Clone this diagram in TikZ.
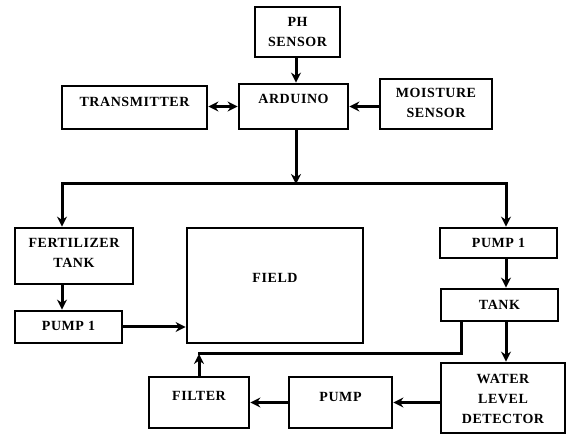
\documentclass[tikz,border=0pt]{standalone}
\usepackage{fontspec}
\setmainfont{Liberation Serif}[LetterSpace=4]
\usetikzlibrary{arrows.meta}
\begin{document}
\begin{tikzpicture}[x=1pt,y=-1pt,
  blk/.style={draw,line width=2.8pt,rectangle,inner sep=0pt},
  txt/.style={font=\fontsize{14}{20}\selectfont\bfseries,align=center,inner sep=0pt},
  arr/.style={line width=3pt,-{Stealth[length=10pt,width=10pt]}},
  darr/.style={line width=3pt,{Stealth[length=10pt,width=10pt]}-{Stealth[length=10pt,width=10pt]}},
  ln/.style={line width=3pt}]
\useasboundingbox (0,0) rectangle (568,435);
% boxes
\node[blk,minimum width=85pt,minimum height=50pt] (ph) at (297.5,32) {};
\node[txt] (phT) at (297.5,32) {PH\\SENSOR};
\node[blk,minimum width=109pt,minimum height=45pt] (ard) at (293.5,106.5) {};
\node[txt] (ardT) at (293.5,99) {ARDUINO};
\node[blk,minimum width=145pt,minimum height=43pt] (tx) at (134.5,107.5) {};
\node[txt] (txT) at (134.5,102) {TRANSMITTER};
\node[blk,minimum width=112pt,minimum height=50pt] (ms) at (436,104) {};
\node[txt] (msT) at (436,103) {MOISTURE\\SENSOR};
\node[blk,minimum width=118pt,minimum height=56pt] (fert) at (74,256) {};
\node[txt] (fertT) at (74,253) {FERTILIZER\\TANK};
\node[blk,minimum width=107pt,minimum height=32pt] (p1l) at (68.5,327) {};
\node[txt] (p1lT) at (68.5,326) {PUMP 1};
\node[blk,minimum width=176pt,minimum height=115pt] (field) at (275,285.5) {};
\node[txt] (fieldT) at (275,278) {FIELD};
\node[blk,minimum width=117pt,minimum height=30pt] (p1r) at (498.5,243) {};
\node[txt] (p1rT) at (498.5,243) {PUMP 1};
\node[blk,minimum width=117pt,minimum height=32pt] (tank) at (499.5,305) {};
\node[txt] (tankT) at (499.5,305) {TANK};
\node[blk,minimum width=124pt,minimum height=70pt] (wld) at (503,398) {};
\node[txt] (wldT) at (503,399) {WATER\\LEVEL\\DETECTOR};
\node[blk,minimum width=100pt,minimum height=51pt] (filter) at (199,402.5) {};
\node[txt] (filterT) at (199,396) {FILTER};
\node[blk,minimum width=103pt,minimum height=51pt] (pump) at (340.5,402.5) {};
\node[txt] (pumpT) at (340.5,397) {PUMP};
% junction coordinates
\coordinate (j) at (296,184);
\coordinate (jl) at (62,184);
\coordinate (jr) at (506,184);
\coordinate (tb) at (461,354);
\coordinate (fb) at (199,354);
% connectors
\draw[arr] (ph.south -| j) -- (ard.north -| j);
\draw[arr] (ard.south -| j) -- (j);
\draw[ln,line cap=rect] (jl) -- (jr);
\draw[arr] (jl) -- (jl |- fert.north);
\draw[arr] (jr) -- (jr |- p1r.north);
\draw[darr] (tx.east |- ard.west) -- (ard.west);
\draw[arr] (ms.west |- ard.east) -- (ard.east);
\draw[arr] (jl |- fert.south) -- (jl |- p1l.north);
\draw[arr] (p1l.east) -- (p1l.east -| field.west);
\draw[arr] (jr |- p1r.south) -- (jr |- tank.north);
\draw[arr] (jr |- tank.south) -- (jr |- wld.north);
\draw[ln,line cap=rect] (tank.south -| tb) -- (tb) -- (fb);
\draw[arr] (filter.north) -- (fb);
\draw[arr] (wld.west |- pump.east) -- (pump.east);
\draw[arr] (pump.west) -- (filter.east);
\end{tikzpicture}
\end{document}
